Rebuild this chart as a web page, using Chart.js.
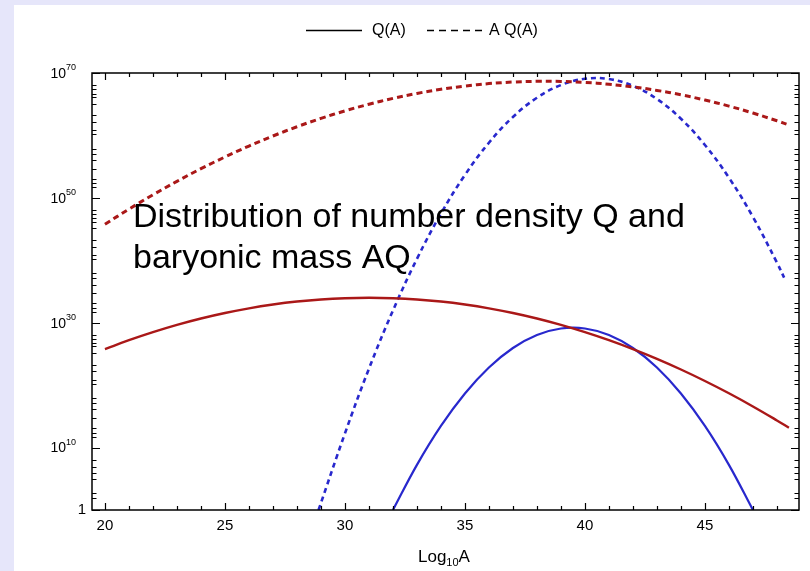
<!DOCTYPE html>
<html>
<head>
<meta charset="utf-8">
<script src="https://cdn.jsdelivr.net/npm/chart.js@4.4.1/dist/chart.umd.min.js"></script>
<style>
  html, body { margin: 0; padding: 0; background: #e6e6fa; }
  #wrap { width: 810px; height: 571px; position: relative; }
</style>
</head>
<body>
<div id="wrap"><canvas id="chart"></canvas></div>
<script>
// values are log10 of the quantity
const qX = [20, 21, 22, 23, 24, 25, 26, 27, 28, 29, 30, 31, 32, 33, 34, 35, 36, 37, 38, 39, 40, 41, 42, 43, 44, 45, 46, 47, 48, 48.5];
const qRed = [25.77, 27.2, 28.49, 29.65, 30.67, 31.55, 32.3, 32.91, 33.39, 33.73, 33.93, 34.0, 33.93, 33.73, 33.39, 32.91, 32.3, 31.55, 30.67, 29.65, 28.49, 27.2, 25.77, 24.21, 22.51, 20.67, 18.7, 16.59, 14.35, 13.18];
const aqRed = [45.77, 48.2, 50.49, 52.65, 54.67, 56.55, 58.3, 59.91, 61.39, 62.73, 63.93, 65.0, 65.93, 66.73, 67.39, 67.91, 68.3, 68.55, 68.67, 68.65, 68.49, 68.2, 67.77, 67.21, 66.51, 65.67, 64.7, 63.59, 62.35, 61.68];

const qBlueX = [32, 33, 34, 35, 36, 37, 38, 39, 40, 41, 42, 43, 44, 45, 46, 47];
const qBlue = [0, 7.23, 13.47, 18.67, 22.83, 25.95, 28.03, 29.07, 29.07, 28.03, 25.95, 22.83, 18.67, 13.47, 7.23, 0];
const aqBlueX = [28.9, 30, 31, 32, 33, 34, 35, 36, 37, 38, 39, 40, 41, 42, 43, 44, 45, 46, 47, 48, 48.3];
const aqBlue = [0, 12.27, 22.63, 31.95, 40.23, 47.47, 53.67, 58.83, 62.95, 66.03, 68.07, 69.07, 69.03, 67.95, 65.83, 62.67, 58.47, 53.23, 46.95, 39.63, 37.23];

const xLabels = [20, 25, 30, 35, 40, 45];
const yLabels = [0, 10, 30, 50, 70];
const yMinor = [2.0, 2.8, 4.9, 5.9, 6.9, 8.0,
  11.7, 12.4, 13.1, 14.7, 16.1, 17.1, 17.9, 20.2, 20.9, 22.2, 23.3, 25.1, 26.2, 26.7, 27.4, 28.1,
  31.7, 32.4, 33.1, 34.7, 36.1, 37.1, 37.9, 40.2, 40.9, 42.2, 43.3, 45.1, 46.2, 46.7, 47.4, 48.1,
  51.7, 52.4, 53.1, 54.7, 56.1, 57.1, 57.9, 60.2, 60.9, 62.2, 63.3, 65.1, 66.2, 66.7, 67.4, 68.1];

const RED = 'rgb(170,24,24)';
const BLUE = 'rgb(40,40,205)';
const FONT = '"Liberation Sans", Arial, sans-serif';

const pts = (xs, ys) => xs.map((x, i) => ({ x: x, y: ys[i] }));

const framePlugin = {
  id: 'frame',
  beforeDraw(chart) {
    const c = chart.ctx;
    c.save();
    c.fillStyle = '#e6e6fa';
    c.fillRect(0, 0, chart.width, chart.height);
    c.fillStyle = '#ffffff';
    c.fillRect(14, 5, chart.width - 14, chart.height - 5);
    c.restore();
  },
  afterDraw(chart) {
    const c = chart.ctx;
    const a = chart.chartArea;
    const xs = chart.scales.x, ys = chart.scales.y;
    c.save();
    c.strokeStyle = '#000';
    c.fillStyle = '#000';
    c.lineWidth = 1.5;
    c.strokeRect(a.left, a.top, a.right - a.left, a.bottom - a.top);

    // x ticks, bottom and top, pointing inwards
    c.lineWidth = 1.2;
    for (let v = 20; v <= 48; v++) {
      const px = Math.round(xs.getPixelForValue(v)) + 0.5;
      const len = v % 5 === 0 ? 7 : 4;
      c.beginPath();
      c.moveTo(px, a.bottom); c.lineTo(px, a.bottom - len);
      c.moveTo(px, a.top); c.lineTo(px, a.top + len);
      c.stroke();
    }
    // y ticks, left and right
    const yTick = (v, len) => {
      const py = Math.round(ys.getPixelForValue(v)) + 0.5;
      c.beginPath();
      c.moveTo(a.left, py); c.lineTo(a.left + len, py);
      c.moveTo(a.right, py); c.lineTo(a.right - len, py);
      c.stroke();
    };
    yLabels.forEach(v => yTick(v, 8));
    yMinor.forEach(v => yTick(v, 4.5));

    // x tick labels
    c.font = '15px ' + FONT;
    c.textAlign = 'center';
    c.textBaseline = 'middle';
    xLabels.forEach(v => c.fillText(String(v), xs.getPixelForValue(v), 526));

    // y tick labels as powers of ten
    c.textAlign = 'left';
    yLabels.forEach(v => {
      const py = ys.getPixelForValue(v);
      if (v === 0) {
        c.font = '15px ' + FONT;
        c.textAlign = 'right';
        c.fillText('1', 86, py);
        c.textAlign = 'left';
        return;
      }
      c.font = '14px ' + FONT;
      const w1 = c.measureText('10').width;
      c.font = '9px ' + FONT;
      const w2 = c.measureText(String(v)).width;
      const x0 = 76 - w1 - w2;
      c.font = '14px ' + FONT;
      c.fillText('10', x0, py + 1);
      c.font = '9px ' + FONT;
      c.fillText(String(v), x0 + w1, py - 5);
    });

    // x axis title
    c.textBaseline = 'alphabetic';
    c.font = '17px ' + FONT;
    let tx = 418;
    c.fillText('Log', tx, 562);
    tx += c.measureText('Log').width;
    c.font = '11px ' + FONT;
    c.fillText('10', tx, 566);
    tx += c.measureText('10').width;
    c.font = '17px ' + FONT;
    c.fillText('A', tx, 562);

    // legend
    c.lineWidth = 1.3;
    c.beginPath(); c.moveTo(306, 30.5); c.lineTo(362, 30.5); c.stroke();
    c.setLineDash([7, 5]);
    c.beginPath(); c.moveTo(427, 30.5); c.lineTo(485, 30.5); c.stroke();
    c.setLineDash([]);
    c.font = '16px ' + FONT;
    c.textBaseline = 'middle';
    c.fillText('Q(A)', 372, 31);
    c.fillText('A Q(A)', 489, 31);

    // annotation
    c.textBaseline = 'alphabetic';
    c.font = '34px ' + FONT;
    c.fillText('Distribution of number density Q and', 133, 227);
    c.fillText('baryonic mass AQ', 133, 268);
    c.restore();
  }
};

new Chart(document.getElementById('chart'), {
  type: 'line',
  data: {
    datasets: [
      { label: 'Q(A)', data: pts(qX, qRed), borderColor: RED, borderWidth: 2.4 },
      { label: 'A Q(A)', data: pts(qX, aqRed), borderColor: RED, borderWidth: 3, borderDash: [6, 4] },
      { label: 'Q(A) blue', data: pts(qBlueX, qBlue), borderColor: BLUE, borderWidth: 2.2 },
      { label: 'A Q(A) blue', data: pts(aqBlueX, aqBlue), borderColor: BLUE, borderWidth: 2.6, borderDash: [5, 4] }
    ]
  },
  options: {
    responsive: true,
    maintainAspectRatio: false,
    animation: false,
    layout: { padding: { left: 92, right: 11, top: 73, bottom: 61 } },
    elements: {
      point: { radius: 0 },
      line: { tension: 0.4, fill: false }
    },
    scales: {
      x: { type: 'linear', min: 19.46, max: 48.92, display: false },
      y: { type: 'linear', min: 0, max: 70, display: false }
    },
    plugins: { legend: { display: false }, tooltip: { enabled: false } }
  },
  plugins: [framePlugin]
});
</script>
</body>
</html>
